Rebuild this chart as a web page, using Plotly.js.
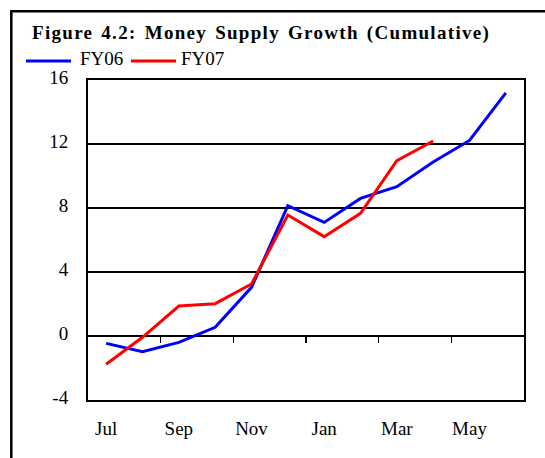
<!DOCTYPE html>
<html>
<head>
<meta charset="utf-8">
<script src="https://cdn.plot.ly/plotly-3.0.1.min.js"></script>
<style>
  html, body { margin: 0; padding: 0; background: #fff; }
  #chart { width: 545px; height: 458px; }
  .gtitle { letter-spacing: 1.3px; word-spacing: 2px; }
</style>
</head>
<body>
<div id="chart"></div>
<script>
const months = ['Jul','Aug','Sep','Oct','Nov','Dec','Jan','Feb','Mar','Apr','May','Jun'];
const fy06 = [-0.46, -0.98, -0.40, 0.54, 3.04, 8.14, 7.10, 8.60, 9.33, 10.88, 12.22, 15.20];
const fy07 = [-1.77, -0.08, 1.87, 2.02, 3.25, 7.56, 6.21, 7.67, 10.96, 12.19];
const seriesNames = ['FY06', 'FY07'];
const seriesColors = ['#0000FF', '#FF0000'];
const yTicks = [-4, 0, 4, 8, 12, 16];
const yTickText = ['-4', '0', '4', '8', '12', '16'];
const boundaryTicks = [1.5, 3.5, 5.5, 7.5, 9.5];

const W = 545, H = 458;
const L = 88, R = 21, T = 80, B = 58;
const pw = W - L - R, ph = H - T - B;
const px = v => (v - L) / pw;
const py = v => (H - B - v) / ph;

const FONT = '"Liberation Serif", "Times New Roman", serif';

const traces = [
  {x: months.slice(0, fy06.length), y: fy06, name: seriesNames[0], type: 'scatter', mode: 'lines',
   line: {color: seriesColors[0], width: 3}, xaxis: 'x', yaxis: 'y'},
  {x: months.slice(0, fy07.length), y: fy07, name: seriesNames[1], type: 'scatter', mode: 'lines',
   line: {color: seriesColors[1], width: 3}, xaxis: 'x', yaxis: 'y'},
  // empty trace so the tick-only secondary x axis is drawn
  {x: [0], y: [null], xaxis: 'x2', yaxis: 'y', type: 'scatter', mode: 'lines', showlegend: false, hoverinfo: 'skip'}
];

const layout = {
  width: W, height: H,
  margin: {l: L, r: R, t: T, b: B, pad: 0},
  paper_bgcolor: '#fff', plot_bgcolor: '#fff',
  showlegend: false,
  font: {family: FONT, size: 19, color: '#000'},
  title: {
    text: '<b>Figure 4.2: Money Supply Growth (Cumulative)</b>',
    font: {family: FONT, size: 19, color: '#000'},
    xref: 'container', x: 32 / W, xanchor: 'left',
    yref: 'container', y: 1 - 32 / H, yanchor: 'middle'
  },
  xaxis: {
    type: 'category', categoryorder: 'array', categoryarray: months,
    range: [-0.5, 11.5], tickmode: 'linear', tick0: 0, dtick: 2,
    ticks: '', showgrid: false, zeroline: false,
    showline: true, linecolor: '#000', linewidth: 2, mirror: true,
    ticklabelstandoff: 10, tickfont: {family: FONT, size: 19, color: '#000'},
    fixedrange: true
  },
  xaxis2: {
    overlaying: 'x', anchor: 'free', position: py(336), range: [-0.5, 11.5],
    tickmode: 'array', tickvals: boundaryTicks, ticks: 'outside', ticklen: 6, tickwidth: 1.5, tickcolor: '#000',
    showticklabels: false, showgrid: false, zeroline: false, showline: false, fixedrange: true
  },
  yaxis: {
    range: [-4, 16], tickmode: 'array', tickvals: yTicks, ticktext: yTickText,
    showgrid: true, gridcolor: '#000', gridwidth: 1.5,
    zeroline: true, zerolinecolor: '#000', zerolinewidth: 1.5,
    showline: true, linecolor: '#000', linewidth: 2, mirror: true,
    ticks: '', ticklabelstandoff: 14, ticklabelshift: -3,
    tickfont: {family: FONT, size: 19, color: '#000'}, fixedrange: true
  },
  shapes: [
    {type: 'rect', xref: 'paper', yref: 'paper', x0: px(11.3), x1: px(560), y0: py(470), y1: py(11.3),
     line: {color: '#000', width: 2.5}, fillcolor: 'rgba(0,0,0,0)', layer: 'below'},
    {type: 'line', xref: 'paper', yref: 'paper', x0: px(26), x1: px(71), y0: py(61), y1: py(61),
     line: {color: seriesColors[0], width: 3}},
    {type: 'line', xref: 'paper', yref: 'paper', x0: px(131), x1: px(176), y0: py(61), y1: py(61),
     line: {color: seriesColors[1], width: 3}}
  ],
  annotations: [
    {text: seriesNames[0], xref: 'paper', yref: 'paper', x: px(78), y: py(59), xanchor: 'left', yanchor: 'middle',
     showarrow: false, font: {family: FONT, size: 19, color: '#000'}},
    {text: seriesNames[1], xref: 'paper', yref: 'paper', x: px(179), y: py(59), xanchor: 'left', yanchor: 'middle',
     showarrow: false, font: {family: FONT, size: 19, color: '#000'}}
  ]
};

Plotly.newPlot('chart', traces, layout, {staticPlot: true, displayModeBar: false});
</script>
</body>
</html>
